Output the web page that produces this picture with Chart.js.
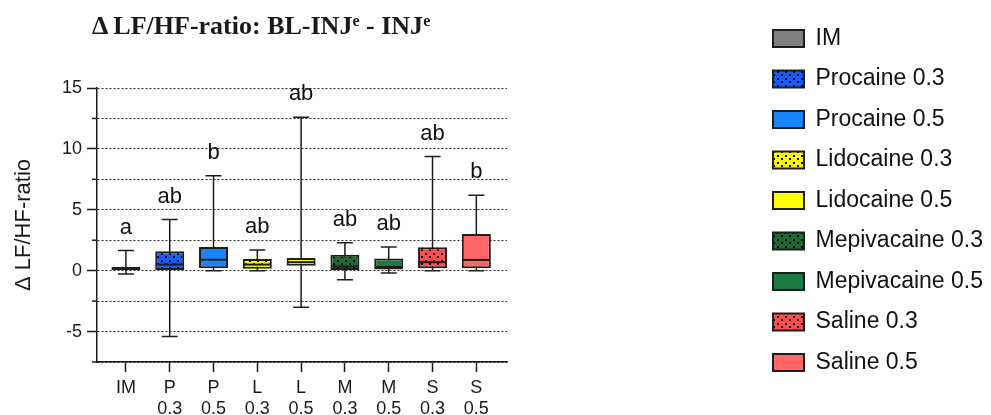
<!DOCTYPE html>
<html>
<head>
<meta charset="utf-8">
<script src="https://cdn.jsdelivr.net/npm/chart.js@4.4.1/dist/chart.umd.min.js"></script>
<style>
  html, body { margin: 0; padding: 0; background: #ffffff; overflow: hidden; }
  #wrap { position: relative; width: 991px; height: 415px; }
  #chart { position: absolute; left: 0; top: 0; width: 991px; height: 415px; }
  #title { position: absolute; left: 92px; top: 13px; font-family: 'Liberation Serif', 'Times New Roman', serif;
           font-weight: bold; font-size: 26px; line-height: 1; color: #1a1a1a; white-space: nowrap; }
  #title .sup { font-size: 0.62em; position: relative; top: -0.5em; }
</style>
</head>
<body>
<div id="wrap">
  <canvas id="chart" width="991" height="415"></canvas>
  <div id="title">Δ LF/HF-ratio: BL-INJ<span class="sup">e</span> - INJ<span class="sup">e</span></div>
</div>
<script>
// ---- data ----
const groupNames = ['IM', 'Procaine 0.3', 'Procaine 0.5', 'Lidocaine 0.3', 'Lidocaine 0.5',
                    'Mepivacaine 0.3', 'Mepivacaine 0.5', 'Saline 0.3', 'Saline 0.5'];
const tickLabels = [['IM'], ['P', '0.3'], ['P', '0.5'], ['L', '0.3'], ['L', '0.5'],
                    ['M', '0.3'], ['M', '0.5'], ['S', '0.3'], ['S', '0.5']];
const whiskerLow  = [-0.28, -5.4, 0.0, 0.0, -3.0, -0.75, -0.2, 0.0, 0.0];
const q1          = [0.05, 0.05, 0.2, 0.15, 0.4, 0.05, 0.1, 0.2, 0.2];
const median      = [0.15, 0.5, 0.9, 0.5, 0.7, 0.35, 0.3, 0.7, 0.88];
const q3          = [0.3, 1.6, 1.95, 0.95, 1.05, 1.3, 1.0, 1.92, 3.02];
const whiskerHigh = [1.65, 4.2, 7.8, 1.7, 12.6, 2.3, 1.95, 9.37, 6.2];
const sigLetters  = ['a', 'ab', 'b', 'ab', 'ab', 'ab', 'ab', 'ab', 'b'];
const fillColors  = ['#808080', '#145FFB', '#1A84FF', '#FFFF00', '#FFFF00',
                     '#1C6B33', '#1B7B42', '#FF4D4D', '#FF6666'];
const dotted      = [false, true, false, true, false, true, false, true, false];
const yTitle = 'Δ LF/HF-ratio';

const FONT = "'Liberation Sans', Arial, Helvetica, sans-serif";
Chart.defaults.font.family = FONT;
Chart.defaults.color = '#1a1a1a';

function dotPattern(color) {
  const c = document.createElement('canvas');
  c.width = 8; c.height = 7;
  const g = c.getContext('2d');
  g.fillStyle = color; g.fillRect(0, 0, 8, 7);
  g.fillStyle = '#000000';
  g.fillRect(1, 1, 2, 2);
  g.fillRect(5, 4, 2, 2);
  return g.createPattern(c, 'repeat');
}

const datasets = groupNames.map((name, i) => ({
  label: name,
  data: [{ x: i, y: [q1[i], q3[i]] }],
  backgroundColor: dotted[i] ? dotPattern(fillColors[i]) : fillColors[i],
  borderColor: '#1e1e1e',
  borderWidth: 2,
  borderSkipped: false
}));

const boxPlugin = {
  id: 'boxPlugin',
  beforeDatasetsDraw(chart) {
    const { ctx, scales: { x, y } } = chart;
    ctx.save();
    ctx.strokeStyle = '#1e1e1e';
    ctx.lineWidth = 1.5;
    groupNames.forEach((_, i) => {
      const px = x.getPixelForValue(i);
      const yH = y.getPixelForValue(whiskerHigh[i]);
      const yL = y.getPixelForValue(whiskerLow[i]);
      ctx.beginPath();
      ctx.moveTo(px, yH); ctx.lineTo(px, yL);
      ctx.moveTo(px - 8, yH); ctx.lineTo(px + 8, yH);
      ctx.moveTo(px - 8, yL); ctx.lineTo(px + 8, yL);
      ctx.stroke();
    });
    ctx.restore();
  },
  afterDatasetsDraw(chart) {
    const { ctx, scales: { x, y } } = chart;
    ctx.save();
    ctx.strokeStyle = '#1e1e1e';
    ctx.lineWidth = 2;
    groupNames.forEach((_, i) => {
      const px = x.getPixelForValue(i);
      const ym = y.getPixelForValue(median[i]);
      ctx.beginPath();
      ctx.moveTo(px - 13.5, ym); ctx.lineTo(px + 13.5, ym);
      ctx.stroke();
    });
    ctx.fillStyle = '#111111';
    ctx.font = '22px ' + FONT;
    ctx.textAlign = 'center';
    ctx.textBaseline = 'alphabetic';
    groupNames.forEach((_, i) => {
      const px = x.getPixelForValue(i);
      const yH = y.getPixelForValue(whiskerHigh[i]);
      ctx.fillText(sigLetters[i], px, yH - 17);
    });
    // minor y ticks (5px)
    ctx.strokeStyle = '#1a1a1a';
    ctx.lineWidth = 1.5;
    const left = chart.chartArea.left;
    y.ticks.forEach(t => {
      if (t.value % 5 !== 0) {
        const py = y.getPixelForValue(t.value);
        ctx.beginPath(); ctx.moveTo(left - 5, py); ctx.lineTo(left, py); ctx.stroke();
      }
    });
    ctx.restore();
  }
};

const legendPlacer = {
  id: 'legendPlacer',
  beforeLayout(chart) {
    const lg = chart.legend;
    if (lg && !lg._patched) {
      const orig = lg.fit.bind(lg);
      lg.fit = function () { orig(); this.width = 991 - 507; };
      lg._patched = true;
    }
  },
  afterLayout(chart) {
    const lg = chart.legend;
    if (lg) { lg.left = 755.5; lg.right = 991; lg.top = 9.5; lg.bottom = 415; }
  }
};

new Chart(document.getElementById('chart'), {
  type: 'bar',
  data: { datasets },
  plugins: [boxPlugin, legendPlacer],
  options: {
    responsive: false,
    animation: false,
    devicePixelRatio: 1,
    layout: { padding: { top: 88, left: 0, right: 0, bottom: 0 } },
    datasets: { bar: { grouped: false, maxBarThickness: 29 } },
    plugins: {
      tooltip: { enabled: false },
      title: { display: false },
      legend: {
        position: 'right',
        align: 'start',
        labels: { boxWidth: 31, boxHeight: 17, padding: 17.5, font: { size: 23 }, color: '#111111' }
      }
    },
    scales: {
      x: {
        type: 'linear',
        min: -0.66, max: 8.7,
        offset: false,
        afterBuildTicks: s => { s.ticks = tickLabels.map((_, i) => ({ value: i })); },
        ticks: { autoSkip: false, maxRotation: 0, minRotation: 0, padding: 6,
                 font: { size: 18, lineHeight: 1.15 }, color: '#1a1a1a',
                 callback: v => tickLabels[v] },
        grid: { offset: false, drawOnChartArea: false, drawTicks: true, tickLength: 10, tickWidth: 1.5,
                tickColor: '#1a1a1a', color: '#1a1a1a' },
        border: { display: true, color: '#1a1a1a', width: 1.5 },
        afterFit: s => { s.height = 53; }
      },
      y: {
        min: -7.5, max: 15,
        ticks: { stepSize: 2.5, autoSkip: false, padding: 5, font: { size: 18 }, color: '#1a1a1a',
                 callback: v => (v % 5 === 0 ? String(v) : '') },
        grid: { color: '#2a2a2a', lineWidth: 1, tickLength: 10, tickWidth: 1.5,
                tickColor: c => (c.tick && c.tick.value % 5 === 0 ? '#1a1a1a' : 'rgba(0,0,0,0)') },
        border: { display: true, color: '#1a1a1a', width: 1.5, dash: [2, 2] },
        title: { display: true, text: yTitle, font: { size: 22 }, color: '#1a1a1a', padding: { top: 11, bottom: 0 } },
        afterFit: s => { s.width = 97; }
      }
    }
  }
});
</script>
</body>
</html>
